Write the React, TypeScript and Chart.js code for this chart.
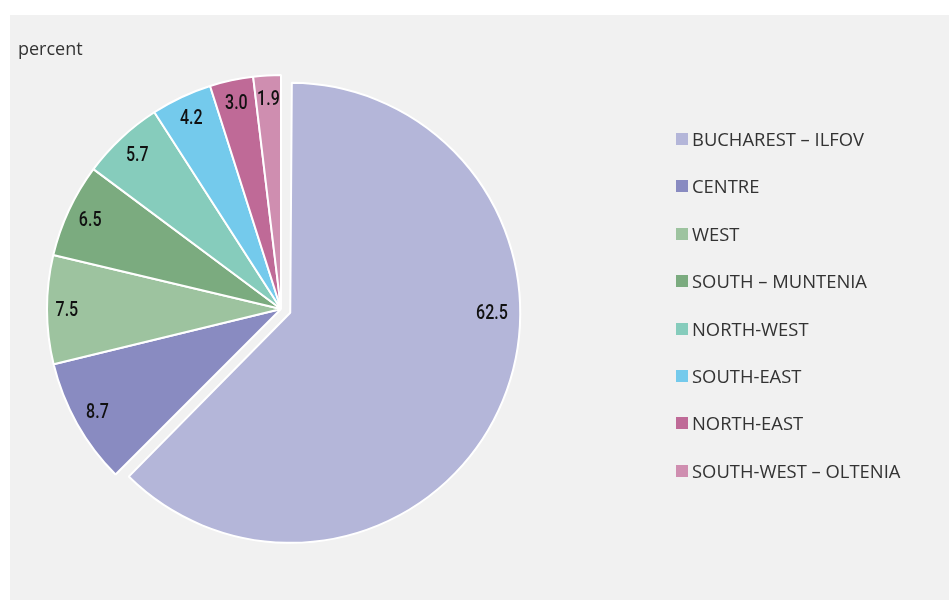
import React, { useEffect, useRef } from "react";
import { Chart, registerables } from "chart.js";

Chart.register(...registerables);

const regions = [
  "BUCHAREST – ILFOV",
  "CENTRE",
  "WEST",
  "SOUTH – MUNTENIA",
  "NORTH-WEST",
  "SOUTH-EAST",
  "NORTH-EAST",
  "SOUTH-WEST – OLTENIA",
];
const shares = [62.5, 8.7, 7.5, 6.5, 5.7, 4.2, 3.0, 1.9];
const colors = [
  "#b4b6d9",
  "#898bc1",
  "#9dc39f",
  "#7bab7f",
  "#86ccbc",
  "#74caec",
  "#bf6a97",
  "#cf8eb0",
];
const sliceOffsets = [40, 0, 0, 0, 0, 0, 0, 0];
const sliceShrink = [4, 0, 0, 0, 0, 0, 0, 0];
const labelAngleFrac = [0.4, 0.5, 0.5, 0.5, 0.5, 0.5, 0.5, 0.5];
const labelRadiusFrac = [0.877, 0.9, 0.915, 0.9, 0.9, 0.9, 0.9, 0.9];
const unitLabel = "percent";

const BG = "#f1f1f1";

function arcShift(arc: any) {
  const off = (arc.options.offset || 0) / 4;
  const fix = 1 - Math.sin(Math.min(Math.PI, arc.circumference || 0));
  return { off, grow: off * fix };
}

const shapePlugin = {
  id: "sliceShape",
  afterDatasetUpdate(chart: any) {
    const meta = chart.getDatasetMeta(0);
    meta.data.forEach((arc: any, i: number) => {
      const { grow } = arcShift(arc);
      arc.outerRadius = arc.outerRadius - grow - sliceShrink[i];
    });
  },
};

const labelPlugin = {
  id: "sliceLabels",
  afterDatasetsDraw(chart: any) {
    const ctx = chart.ctx;
    const meta = chart.getDatasetMeta(0);
    ctx.save();
    ctx.fillStyle = "#111";
    ctx.font = '500 20px Roboto, "DejaVu Sans Condensed", sans-serif';
    ctx.textAlign = "center";
    ctx.textBaseline = "middle";
    const sx = 0.8;
    meta.data.forEach((arc: any, i: number) => {
      const { off, grow } = arcShift(arc);
      const half = (arc.startAngle + arc.endAngle) / 2;
      const cx = arc.x + Math.cos(half) * off;
      const cy = arc.y + Math.sin(half) * off;
      const a = arc.startAngle + (arc.endAngle - arc.startAngle) * labelAngleFrac[i];
      const r = (arc.outerRadius + grow) * labelRadiusFrac[i];
      const lx = cx + Math.cos(a) * r;
      const ly = cy + Math.sin(a) * r;
      ctx.save();
      ctx.translate(lx, ly);
      ctx.scale(sx, 1);
      ctx.fillText(shares[i].toFixed(1), 0, 1);
      ctx.restore();
    });
    ctx.restore();
  },
};

export default function App() {
  const ref = useRef<HTMLCanvasElement | null>(null);

  useEffect(() => {
    if (!ref.current) return;
    const chart = new Chart(ref.current, {
      type: "pie",
      data: {
        labels: regions,
        datasets: [
          {
            data: shares,
            backgroundColor: colors,
            borderColor: "#ffffff",
            borderWidth: 2,
            offset: sliceOffsets,
            hoverOffset: 0,
            clip: false,
          } as any,
        ],
      },
      options: {
        animation: false,
        responsive: false,
        maintainAspectRatio: false,
        events: [],
        radius: 234,
        layout: { padding: { left: 0, top: 3, right: 397, bottom: 0 } },
        plugins: {
          legend: { display: false },
          tooltip: { enabled: false },
          title: { display: false },
        },
      } as any,
      plugins: [shapePlugin, labelPlugin],
    });
    return () => chart.destroy();
  }, []);

  return (
    <div
      style={{
        position: "absolute",
        left: 10,
        top: 15,
        width: 939,
        height: 585,
        background: BG,
        overflow: "hidden",
      }}
    >
      <canvas ref={ref} width={939} height={585} style={{ position: "absolute", left: 0, top: 0 }} />
      <div
        style={{
          position: "absolute",
          left: 8,
          top: 21,
          fontFamily: '"Open Sans", sans-serif',
          fontSize: 18,
          lineHeight: "24px",
          color: "#333",
        }}
      >
        {unitLabel}
      </div>
      <div style={{ position: "absolute", left: 666, top: 100.3 }}>
        {regions.map((name, i) => (
          <div
            key={name}
            style={{
              height: 47.4,
              display: "flex",
              alignItems: "center",
              fontFamily: '"Open Sans", sans-serif',
              fontSize: 18.4,
              lineHeight: "24px",
              color: "#333",
              whiteSpace: "nowrap",
            }}
          >
            <span
              style={{
                display: "inline-block",
                width: 12,
                height: 12,
                background: colors[i],
                marginRight: 4,
              }}
            />
            <span>{name}</span>
          </div>
        ))}
      </div>
    </div>
  );
}
